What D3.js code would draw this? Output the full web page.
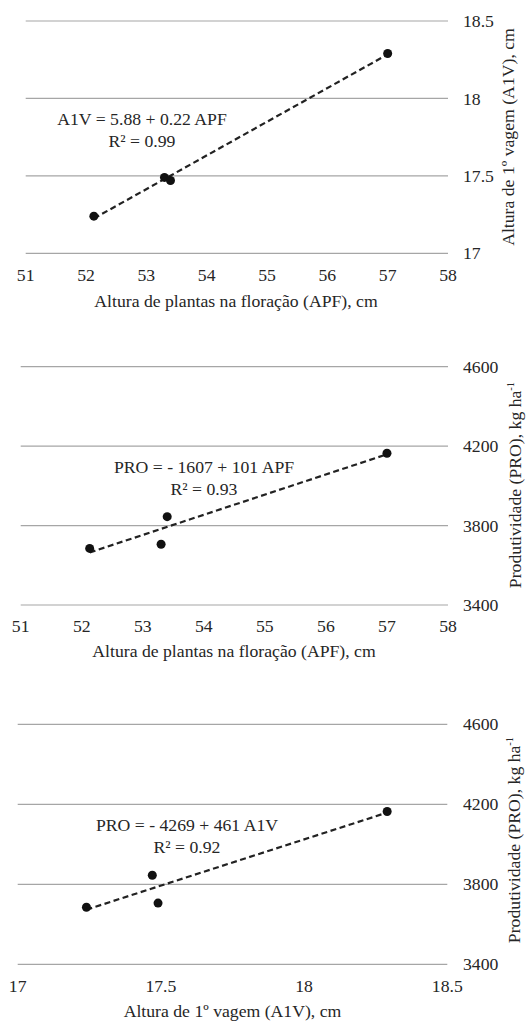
<!DOCTYPE html>
<html>
<head>
<meta charset="utf-8">
<script src="https://cdn.jsdelivr.net/npm/d3@7/dist/d3.min.js"></script>
<style>
  html, body { margin: 0; padding: 0; background: #fff; }
  svg { display: block; }
</style>
</head>
<body>
<svg id="chart" width="530" height="1021" font-family="'Liberation Serif', 'Times New Roman', Times, 'DejaVu Serif', serif"></svg>
<script>
// ---- data ----
const apf = [52.13, 53.3, 53.4, 57.0];          // Altura de plantas na floração, cm
const a1v = [17.24, 17.49, 17.47, 18.29];        // Altura de 1º vagem, cm
const pro = [3685, 3706, 3845, 4164];            // Produtividade, kg/ha

const apfTicks = [51, 52, 53, 54, 55, 56, 57, 58];
const a1vTicksY = [17, 17.5, 18, 18.5];
const a1vTicksX = [17, 17.5, 18, 18.5];
const proTicks = [3400, 3800, 4200, 4600];

const eqLabels = [
  ["A1V = 5.88 + 0.22 APF", "R² = 0.99"],
  ["PRO = - 1607 + 101 APF", "R² = 0.93"],
  ["PRO = - 4269 + 461 A1V", "R² = 0.92"]
];
const xTitles = ["Altura de plantas na floração (APF), cm",
                 "Altura de plantas na floração (APF), cm",
                 "Altura de 1º vagem (A1V), cm"];
const yTitles = ["Altura de 1º vagem (A1V), cm",
                 "Produtividade (PRO), kg ha",
                 "Produtividade (PRO), kg ha"];

// ---- layout ----
const panels = [
  { xs: apf, ys: a1v, xTicks: apfTicks, yTicks: a1vTicksY, xDom: [51, 58], yDom: [17, 18.5],
    left: 25.7, right: 448, top: 21, bottom: 253.3, tickY: 281, xTitleY: 307, xTitleX: 236,
    yTitleX: 514, yTitleY: 137, sup: false, eqX: 142, eqY: 125, eqY2: 147 },
  { xs: apf, ys: pro, xTicks: apfTicks, yTicks: proTicks, xDom: [51, 58], yDom: [3400, 4600],
    left: 20.7, right: 448, top: 366.7, bottom: 605, tickY: 632, xTitleY: 657, xTitleX: 234,
    yTitleX: 521, yTitleY: 485, sup: true, eqX: 204, eqY: 473, eqY2: 495 },
  { xs: a1v, ys: pro, xTicks: a1vTicksX, yTicks: proTicks, xDom: [17, 18.5], yDom: [3400, 4600],
    left: 17.7, right: 447.3, top: 724.3, bottom: 964.3, tickY: 992, xTitleY: 1017, xTitleX: 232.5,
    yTitleX: 520, yTitleY: 840, sup: true, eqX: 187, eqY: 831, eqY2: 853 }
];

const svg = d3.select("#chart");
const FS = 17.7;

function linfit(xs, ys) {
  const n = xs.length;
  const mx = d3.mean(xs), my = d3.mean(ys);
  let sxy = 0, sxx = 0;
  for (let i = 0; i < n; i++) { sxy += (xs[i] - mx) * (ys[i] - my); sxx += (xs[i] - mx) ** 2; }
  const b = sxy / sxx;
  return { a: my - b * mx, b };
}

panels.forEach((p, i) => {
  const g = svg.append("g").attr("fill", "#262626");
  const x = d3.scaleLinear().domain(p.xDom).range([p.left, p.right]);
  const y = d3.scaleLinear().domain(p.yDom).range([p.bottom, p.top]);

  // gridlines
  g.selectAll("line.grid").data(p.yTicks).enter().append("line")
    .attr("x1", p.left).attr("x2", p.right)
    .attr("y1", d => y(d)).attr("y2", d => y(d))
    .attr("stroke", "#a6a6a6").attr("stroke-width", 1.2);

  // y tick labels (right)
  g.selectAll("text.yt").data(p.yTicks).enter().append("text")
    .attr("x", 463).attr("y", d => y(d)).attr("dy", "0.35em")
    .attr("font-size", FS)
    .text(d => d);

  // x tick labels
  g.selectAll("text.xt").data(p.xTicks).enter().append("text")
    .attr("x", d => x(d)).attr("y", p.tickY)
    .attr("text-anchor", "middle").attr("font-size", FS)
    .text(d => d);

  // x title
  g.append("text").attr("x", p.xTitleX).attr("y", p.xTitleY)
    .attr("text-anchor", "middle").attr("font-size", FS)
    .text(xTitles[i]);

  // y title (rotated)
  const yt = g.append("text")
    .attr("transform", `translate(${p.yTitleX},${p.yTitleY}) rotate(-90)`)
    .attr("text-anchor", "middle").attr("font-size", FS)
    .text(yTitles[i]);
  if (p.sup) {
    yt.append("tspan").attr("font-size", 10.5).attr("dy", -7).text("-1");
  }

  // trend line
  const f = linfit(p.xs, p.ys);
  const x0 = d3.min(p.xs), x1 = d3.max(p.xs);
  g.append("line")
    .attr("x1", x(x0)).attr("y1", y(f.a + f.b * x0))
    .attr("x2", x(x1)).attr("y2", y(f.a + f.b * x1))
    .attr("stroke", "#222").attr("stroke-width", 2.2)
    .attr("stroke-dasharray", "6,3.5");

  // points
  g.selectAll("circle").data(p.xs.map((d, k) => [d, p.ys[k]])).enter().append("circle")
    .attr("cx", d => x(d[0])).attr("cy", d => y(d[1])).attr("r", 4.5)
    .attr("fill", "#111");

  // equation
  g.append("text").attr("x", p.eqX).attr("y", p.eqY)
    .attr("text-anchor", "middle").attr("font-size", FS).text(eqLabels[i][0]);
  g.append("text").attr("x", p.eqX).attr("y", p.eqY2)
    .attr("text-anchor", "middle").attr("font-size", FS).text(eqLabels[i][1]);
});
</script>
</body>
</html>
